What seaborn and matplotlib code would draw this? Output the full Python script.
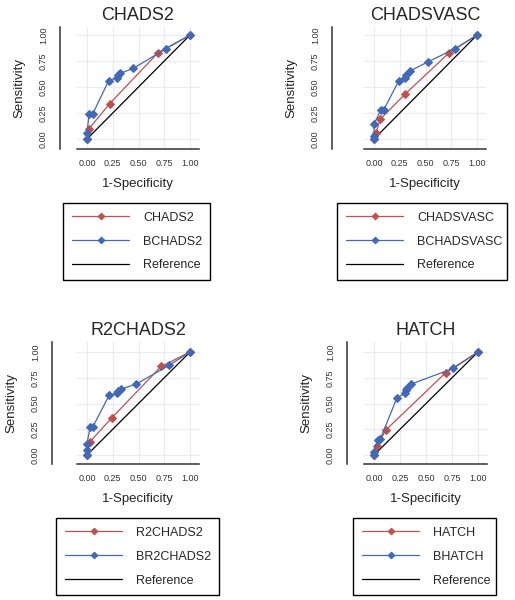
import seaborn as sns
from matplotlib import pyplot as plt

# ROC points (1-specificity, sensitivity)
chads2_fpr = [0, 0.02, 0.22, 0.69, 1]
chads2_tpr = [0, 0.10, 0.34, 0.83, 1]
bchads2_fpr = [0, 0.0, 0.02, 0.055, 0.21, 0.29, 0.30, 0.32, 0.45, 0.77, 1]
bchads2_tpr = [0, 0.06, 0.24, 0.24, 0.56, 0.59, 0.62, 0.63, 0.68, 0.87, 1]

chadsvasc_fpr = [0, 0.02, 0.06, 0.30, 0.73, 1]
chadsvasc_tpr = [0, 0.06, 0.19, 0.43, 0.83, 1]
bchadsvasc_fpr = [0, 0, 0, 0.065, 0.095, 0.24, 0.30, 0.31, 0.35, 0.52, 0.79, 1]
bchadsvasc_tpr = [0, 0.03, 0.14, 0.28, 0.28, 0.56, 0.59, 0.62, 0.655, 0.74, 0.87, 1]

r2chads2_fpr = [0, 0.03, 0.24, 0.72, 1]
r2chads2_tpr = [0, 0.13, 0.36, 0.86, 1]
br2chads2_fpr = [0, 0, 0, 0.03, 0.055, 0.215, 0.29, 0.305, 0.33, 0.48, 0.795, 1]
br2chads2_tpr = [0, 0.05, 0.11, 0.27, 0.27, 0.58, 0.60, 0.62, 0.64, 0.69, 0.87, 1]

hatch_fpr = [0, 0.025, 0.115, 0.69, 1]
hatch_tpr = [0, 0.085, 0.245, 0.80, 1]
bhatch_fpr = [0, 0, 0.035, 0.06, 0.22, 0.295, 0.31, 0.32, 0.36, 0.76, 1]
bhatch_tpr = [0, 0.03, 0.15, 0.155, 0.555, 0.60, 0.635, 0.655, 0.69, 0.84, 1]

ref_line = [0, 1]
ticks = [0, 0.25, 0.5, 0.75, 1]
tick_labels = ['0.00', '0.25', '0.50', '0.75', '1.00']

sns.set_style('white')
plt.rcParams['font.family'] = ['Liberation Sans', 'DejaVu Sans']

red = '#c0504d'
blue = '#4169b8'

W, H = 515, 600
fig = plt.figure(figsize=(W / 100, H / 100), dpi=100)

# layout in pixels: axes box (l, t, r, b), y-spine offset, legend (l, t, r)
panels = [
    ('CHADS2', 'BCHADS2', chads2_fpr, chads2_tpr, bchads2_fpr, bchads2_tpr,
     (77, 27, 199, 149), (-0.096, 1.077), 17, (63, 203, 210)),
    ('CHADSVASC', 'BCHADSVASC', chadsvasc_fpr, chadsvasc_tpr, bchadsvasc_fpr, bchadsvasc_tpr,
     (364, 27, 486, 149), (-0.096, 1.077), 32, (337, 203, 507)),
    ('R2CHADS2', 'BR2CHADS2', r2chads2_fpr, r2chads2_tpr, br2chads2_fpr, br2chads2_tpr,
     (77, 342, 199, 464), (-0.087, 1.097), 25, (56, 518, 219)),
    ('HATCH', 'BHATCH', hatch_fpr, hatch_tpr, bhatch_fpr, bhatch_tpr,
     (364, 342, 487, 464), (-0.087, 1.097), 17, (353, 518, 496)),
]

for name, bname, fx, fy, bx, by, box, ylim, yoff, leg in panels:
    l, t, r, b = box
    ax = fig.add_axes([l / W, 1 - b / H, (r - l) / W, (b - t) / H])

    ax.grid(True, color='#e8ebf1', linewidth=0.8)
    ax.set_axisbelow(True)

    sns.lineplot(x=ref_line, y=ref_line, ax=ax, color='black', linewidth=0.9,
                 label='Reference', zorder=2)
    sns.lineplot(x=fx, y=fy, ax=ax, color=red, linewidth=0.9, marker='D',
                 markersize=4.5, markeredgecolor=red, sort=False, estimator=None,
                 label=name, zorder=3)
    sns.lineplot(x=bx, y=by, ax=ax, color=blue, linewidth=0.9, marker='D',
                 markersize=4.5, markeredgecolor=blue, sort=False, estimator=None,
                 label=bname, zorder=4)

    ax.set_xlim(-0.097, 1.087)
    ax.set_ylim(*ylim)
    ax.set_xticks(ticks, tick_labels)
    ax.set_yticks(ticks, tick_labels)

    sns.despine(ax=ax)
    ax.spines['left'].set_position(('outward', yoff * 0.72))
    for side in ['left', 'bottom']:
        ax.spines[side].set_color('#333333')
        ax.spines[side].set_linewidth(1.1)
    ax.tick_params(axis='both', length=2.2, width=0.9, color='#333333',
                   labelsize=6.5, labelcolor='#333333')
    ax.tick_params(axis='y', pad=6.5, labelrotation=90)
    ax.tick_params(axis='x', pad=5)
    plt.setp(ax.get_yticklabels(), va='center')

    ax.set_title(name, fontsize=13, pad=5)
    ax.set_xlabel('1-Specificity', fontsize=9.5, labelpad=7, color='#222222')
    ax.set_ylabel('Sensitivity', fontsize=9.5, labelpad=10, color='#222222')

    handles, labels = ax.get_legend_handles_labels()
    order = [labels.index(name), labels.index(bname), labels.index('Reference')]
    ll, lt, lr = leg
    lg = ax.legend([handles[i] for i in order], [labels[i] for i in order],
                   loc='upper left', mode='expand',
                   bbox_to_anchor=(ll / W, 1 - lt / H, (lr - ll) / W, 0),
                   bbox_transform=fig.transFigure, borderaxespad=0,
                   fontsize=9, handlelength=4.6, handletextpad=1.1,
                   labelspacing=0.95, borderpad=0.7, markerscale=0.75,
                   fancybox=False, framealpha=1, edgecolor='black')
    lg.get_frame().set_linewidth(1.0)

fig.savefig('out.png', dpi=100)
